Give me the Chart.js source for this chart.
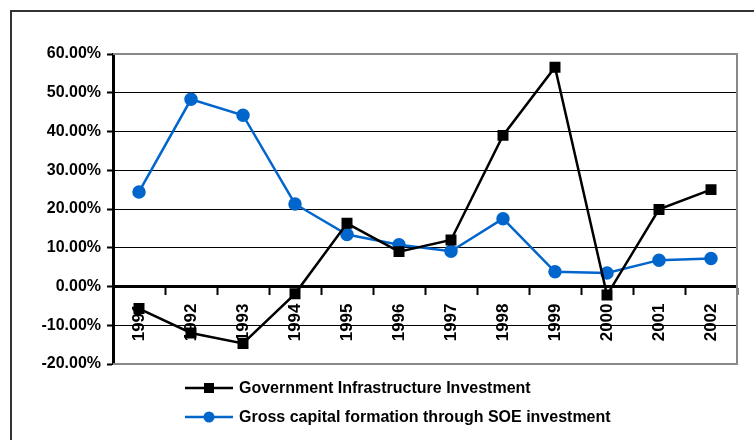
<!DOCTYPE html>
<html>
<head>
<meta charset="utf-8">
<script src="https://cdn.jsdelivr.net/npm/chart.js@4"></script>
<style>
  html, body { margin: 0; padding: 0; background: #fff; }
  #wrap { width: 754px; height: 440px; }
</style>
</head>
<body>
<div id="wrap"><canvas id="chart" width="754" height="440"></canvas></div>
<script>
var years = ['1991', '1992', '1993', '1994', '1995', '1996', '1997', '1998', '1999', '2000', '2001', '2002'];
var govInfra = [-5.7, -12.0, -14.7, -1.9, 16.3, 9.0, 12.0, 39.0, 56.6, -2.2, 19.9, 25.0];
var soeCapital = [24.4, 48.3, 44.2, 21.3, 13.4, 10.8, 9.1, 17.5, 3.8, 3.5, 6.8, 7.2];
var seriesNames = ['Government Infrastructure Investment', 'Gross capital formation through SOE investment'];

var FONT = 'Liberation Sans, Arial, sans-serif';

// frame around the whole picture, plot border and the custom legend
var decor = {
    id: 'decor',
    beforeDatasetsDraw: function(chart) {
        var a = chart.chartArea;
        var ctx = chart.ctx;
        ctx.save();
        ctx.strokeStyle = '#888';
        ctx.lineWidth = 2;
        ctx.beginPath();
        ctx.moveTo(a.left, a.top);
        ctx.lineTo(a.right, a.top);
        ctx.lineTo(a.right, a.bottom);
        ctx.lineTo(a.left, a.bottom);
        ctx.stroke();
        ctx.restore();
    },
    afterDraw: function(chart) {
        var ctx = chart.ctx;
        ctx.save();
        ctx.strokeStyle = '#333';
        ctx.lineWidth = 2;
        ctx.beginPath();
        ctx.moveTo(11, 440);
        ctx.lineTo(11, 11);
        ctx.lineTo(754, 11);
        ctx.stroke();

        chart.data.datasets.forEach(function(ds, i) {
            var y = 388 + i * 29;
            ctx.strokeStyle = ds.borderColor;
            ctx.lineWidth = ds.borderWidth;
            ctx.beginPath();
            ctx.moveTo(185, y);
            ctx.lineTo(233, y);
            ctx.stroke();
            ctx.fillStyle = ds.backgroundColor;
            if (ds.pointStyle === 'rect') {
                ctx.fillRect(209 - 5, y - 5, 10, 10);
            } else {
                ctx.beginPath();
                ctx.arc(209, y, 5.5, 0, Math.PI * 2);
                ctx.fill();
            }
            ctx.fillStyle = '#000';
            ctx.font = 'bold 16px ' + FONT;
            ctx.textBaseline = 'middle';
            ctx.textAlign = 'left';
            ctx.fillText(ds.label, 239, y + 1);
        });
        ctx.restore();
    }
};

var ctx = document.getElementById('chart').getContext('2d');
var myChart = new Chart(ctx, {
    type: 'line',
    data: {
        labels: years,
        datasets: [{
            label: seriesNames[0],
            data: govInfra,
            borderColor: '#000000',
            backgroundColor: '#000000',
            borderWidth: 2.5,
            pointStyle: 'rect',
            pointRadius: 6,
            pointHoverRadius: 6,
            tension: 0
        }, {
            label: seriesNames[1],
            data: soeCapital,
            borderColor: '#0066CC',
            backgroundColor: '#0066CC',
            borderWidth: 2.5,
            pointStyle: 'circle',
            pointRadius: 5.5,
            pointHoverRadius: 5.5,
            tension: 0
        }]
    },
    options: {
        responsive: false,
        animation: false,
        layout: {
            padding: { left: 0, top: 54, right: 17, bottom: 76 }
        },
        plugins: {
            legend: { display: false },
            tooltip: { enabled: false }
        },
        scales: {
            x: {
                position: { y: 0 },
                offset: true,
                grid: {
                    offset: true,
                    drawOnChartArea: false,
                    drawTicks: true,
                    tickLength: 7,
                    tickColor: '#000',
                    tickWidth: 2
                },
                border: { color: '#000', width: 3 },
                ticks: {
                    color: '#000',
                    font: { family: FONT, size: 17, weight: 'bold' },
                    minRotation: 90,
                    maxRotation: 90,
                    autoSkip: false,
                    padding: 10
                }
            },
            y: {
                min: -20,
                max: 60,
                afterFit: function(scale) { scale.width = 113; },
                grid: {
                    color: function(c) {
                        if (c.tick && (c.tick.value === 60 || c.tick.value === -20)) return '#888';
                        return '#000';
                    },
                    lineWidth: 1,
                    tickLength: 6,
                    tickColor: '#000',
                    tickWidth: 2
                },
                border: { color: '#000', width: 3 },
                ticks: {
                    stepSize: 10,
                    color: '#000',
                    padding: 6,
                    font: { family: FONT, size: 16, weight: 'bold' },
                    callback: function(v) { return v.toFixed(2) + '%'; }
                }
            }
        }
    },
    plugins: [decor]
});
</script>
</body>
</html>
